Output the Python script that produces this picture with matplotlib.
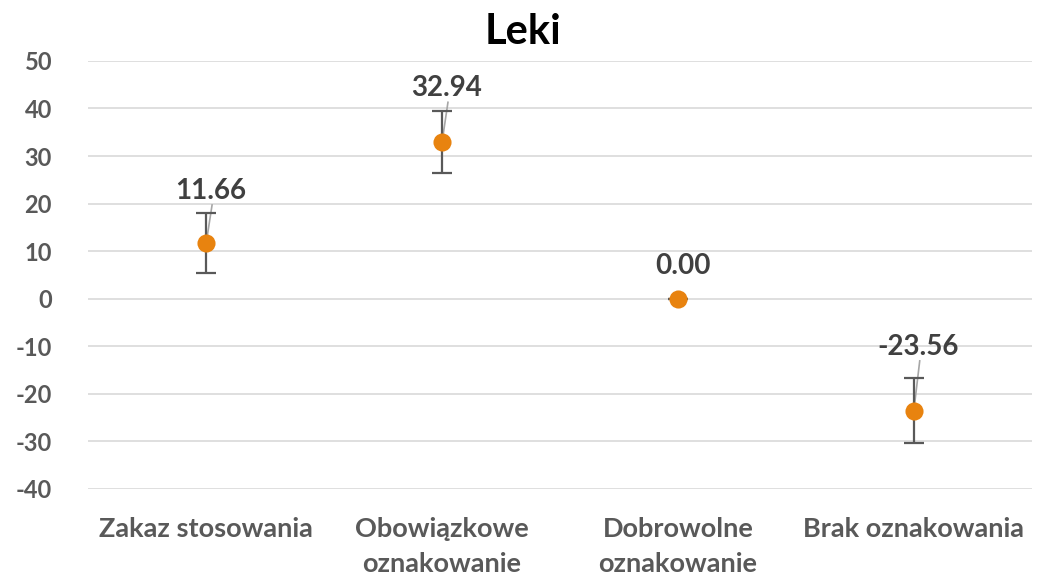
import matplotlib.pyplot as plt

plt.rcParams['font.family'] = ['Lato', 'DejaVu Sans']
plt.rcParams['axes.unicode_minus'] = False

categories = ['Zakaz stosowania', 'Obowiązkowe\noznakowanie', 'Dobrowolne\noznakowanie', 'Brak oznakowania']
values = [11.66, 32.94, 0.00, -23.56]
errors = [6.3, 6.5, 0.0, 6.8]
label_y = [22.7, 44.3, 6.9, -10.1]
yticks = list(range(-40, 60, 10))

fig = plt.figure(figsize=(10.38, 5.75), dpi=100)
ax = fig.add_axes([0.085, 0.15, 0.909, 0.744])

x = list(range(len(categories)))

# leader lines from points to labels
for xi, v, ly in zip(x, values, label_y):
    if v != 0:
        ax.plot([xi, xi + 0.025], [v, ly - 3.0], color='#a6a6a6', lw=1.2, zorder=2)

ax.errorbar(x, values, yerr=errors, fmt='none', ecolor='#595959', elinewidth=1.6,
            capsize=7, capthick=1.6, zorder=3)
ax.scatter(x, values, s=170, color='#E8830F', zorder=4, linewidths=0)

for xi, v, ly in zip(x, values, label_y):
    ax.text(xi + 0.02, ly, f'{v:.2f}', ha='center', va='center', fontsize=20,
            fontweight='bold', color='#404040', zorder=5)

ax.set_xlim(-0.5, 3.5)
ax.set_ylim(-40, 50)
ax.set_yticks(yticks)
ax.set_xticks(x)
ax.set_xticklabels(categories)
ax.yaxis.grid(True, color='#d9d9d9', lw=1.2)
ax.set_axisbelow(True)
for s in ax.spines.values():
    s.set_visible(False)
ax.tick_params(axis='both', length=0, colors='#595959')
ax.tick_params(axis='y', pad=26, labelsize=17)
ax.tick_params(axis='x', pad=20, labelsize=19.5)
for lbl in ax.get_xticklabels() + ax.get_yticklabels():
    lbl.set_fontweight('bold')
    lbl.set_linespacing(1.55)

fig.suptitle('Leki', x=0.504, y=0.978, fontsize=30, fontweight='bold', color='#000000')

fig.savefig('out.png', dpi=100)
